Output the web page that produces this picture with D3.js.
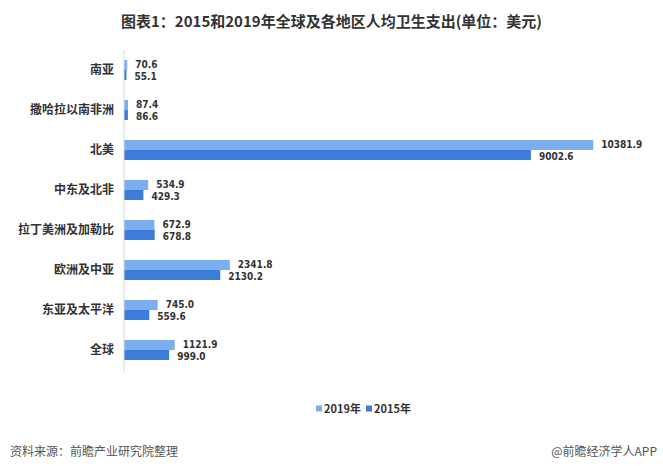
<!DOCTYPE html>
<html>
<head>
<meta charset="utf-8">
<script src="https://cdn.jsdelivr.net/npm/d3@7"></script>
<style>
  body { margin: 0; background: #fff; }
  svg { display: block; font-family: "Noto Sans CJK SC", "Noto Sans", sans-serif; }
</style>
</head>
<body>
<svg id="chart" width="663" height="466"></svg>
<script>
const regions = ['南亚', '撒哈拉以南非洲', '北美', '中东及北非', '拉丁美洲及加勒比', '欧洲及中亚', '东亚及太平洋', '全球']
const years = ['2019年', '2015年']
const values2019 = [70.6, 87.4, 10381.9, 534.9, 672.9, 2341.8, 745.0, 1121.9]
const values2015 = [55.1, 86.6, 9002.6, 429.3, 678.8, 2130.2, 559.6, 999.0]
const colors = ['#7aaeef', '#3b7dd8']

const svg = d3.select('#chart')
const W = 663, H = 466

svg.append('rect').attr('width', W).attr('height', H).attr('fill', '#fff')

svg.append('text')
  .attr('x', W / 2)
  .attr('y', 27)
  .attr('text-anchor', 'middle')
  .attr('font-size', 15)
  .attr('font-weight', 'bold')
  .attr('fill', '#333')
  .text('图表1：2015和2019年全球及各地区人均卫生支出(单位：美元)')

// scales
const x = d3.scaleLinear().domain([0, 11000]).range([124, 124 + 11000 * 0.0452])
const y = d3.scaleBand().domain(regions).range([50, 370]).paddingInner(0.5).paddingOuter(0.25)
const sub = d3.scaleBand().domain(years).range([0, y.bandwidth()])

const rows = regions.map((r, i) => ({region: r, vals: [values2019[i], values2015[i]]}))

// bars
const g = svg.append('g')
const grp = g.selectAll('g.row')
  .data(rows)
  .join('g')
  .attr('class', 'row')
  .attr('transform', d => `translate(0, ${y(d.region)})`)

grp.selectAll('rect')
  .data(d => d.vals.map((v, k) => ({v: v, k: k})))
  .join('rect')
  .attr('x', x(0))
  .attr('y', d => sub(years[d.k]))
  .attr('width', d => x(d.v) - x(0))
  .attr('height', sub.bandwidth())
  .attr('fill', d => colors[d.k])

// value labels, nudged apart a little so the pair doesn't collide
grp.selectAll('text.val')
  .data(d => d.vals.map((v, k) => ({v: v, k: k})))
  .join('text')
  .attr('class', 'val')
  .attr('x', d => x(d.v) + 8)
  .attr('y', d => sub(years[d.k]) + sub.bandwidth() / 2 + (d.k == 0 ? -1 : 1))
  .attr('dy', '0.35em')
  .attr('font-size', 10)
  .attr('font-family', '"Liberation Sans Narrow", "DejaVu Sans Condensed", "Noto Sans", sans-serif')
  .attr('font-weight', 'bold')
  .attr('fill', '#333')
  .text(d => d.v.toFixed(1))

// axis
const yAxis = svg.append('g')
  .attr('transform', `translate(${x(0)}, 0)`)
  .call(d3.axisLeft(y).tickSize(0).tickPadding(10))
yAxis.select('.domain').attr('stroke', '#d9d9d9').attr('d', 'M0,50V372')
yAxis.selectAll('text')
  .attr('font-size', 12)
  .attr('font-weight', 'bold')
  .attr('fill', '#333')
  .attr('font-family', '"Noto Sans CJK SC", sans-serif')

// legend
const legend = svg.append('g').attr('transform', 'translate(316, 409)')
const items = legend.selectAll('g')
  .data(years)
  .join('g')
  .attr('transform', (d, i) => `translate(${i * 50}, 0)`)
items.append('rect')
  .attr('x', 0).attr('y', -3.5)
  .attr('width', 6).attr('height', 6)
  .attr('fill', (d, i) => colors[i])
items.append('text')
  .attr('x', 8)
  .attr('dy', '0.35em')
  .attr('font-size', 11)
  .attr('font-weight', 'bold')
  .attr('fill', '#333')
  .text(d => d)

// footer
svg.append('text')
  .attr('x', 10).attr('y', 456)
  .attr('font-size', 12)
  .attr('fill', '#555')
  .text('资料来源：前瞻产业研究院整理')
svg.append('text')
  .attr('x', 657).attr('y', 456)
  .attr('text-anchor', 'end')
  .attr('font-size', 12)
  .attr('fill', '#555')
  .text('@前瞻经济学人APP')
</script>
</body>
</html>
